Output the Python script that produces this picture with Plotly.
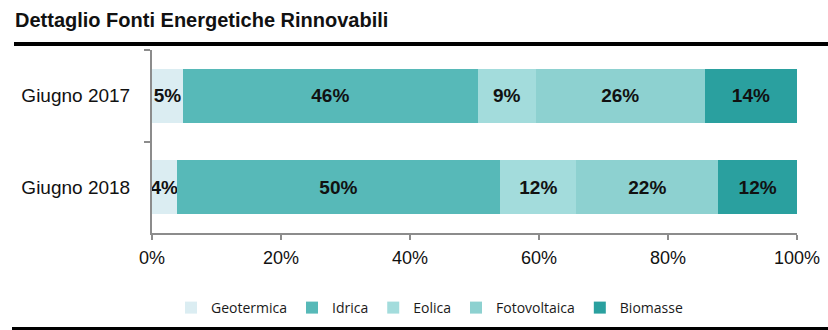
import plotly.graph_objects as go

categories = ["Giugno 2017", "Giugno 2018"]
sources = ["Geotermica", "Idrica", "Eolica", "Fotovoltaica", "Biomasse"]
geotermica = [4.8, 3.8]
idrica = [45.7, 50.2]
eolica = [9.0, 11.8]
fotovoltaica = [26.2, 22.0]
biomasse = [14.3, 12.2]
labels = {
    "Geotermica": ["5%", "4%"],
    "Idrica": ["46%", "50%"],
    "Eolica": ["9%", "12%"],
    "Fotovoltaica": ["26%", "22%"],
    "Biomasse": ["14%", "12%"],
}
colors = ["#dbedf2", "#57b9b8", "#a3dcdc", "#8dd1d0", "#2aa09f"]
xticks = [0, 20, 40, 60, 80, 100]
xticklabels = ["0%", "20%", "40%", "60%", "80%", "100%"]

series = [geotermica, idrica, eolica, fotovoltaica, biomasse]
FONT = "Liberation Sans, Arial, sans-serif"

fig = go.Figure()
for name, vals, col in zip(sources, series, colors):
    fig.add_trace(go.Bar(
        name=name, y=categories, x=vals, orientation="h",
        marker=dict(color=col, line=dict(width=0)),
        text=labels[name], textposition="inside", insidetextanchor="middle",
        textangle=0, constraintext="none", cliponaxis=False,
        textfont=dict(family=FONT, size=19, color="#111111", weight="bold"),
        hoverinfo="skip",
    ))

fig.update_layout(
    width=828, height=330,
    margin=dict(l=152, r=31, t=50, b=97),
    barmode="stack", bargap=0.41,
    plot_bgcolor="white", paper_bgcolor="white",
    font=dict(family=FONT, color="#111111"),
    title=dict(text="<b>Dettaglio Fonti Energetiche Rinnovabili</b>",
               x=15 / 828, xanchor="left", xref="container",
               y=1 - 20 / 330, yanchor="middle", yref="container",
               font=dict(family=FONT, size=20, color="#111111")),
    showlegend=True,
    legend=dict(orientation="h", x=(171 - 152) / 645, xanchor="left",
                y=(330 - 308) / 330, yref="container", yanchor="middle",
                font=dict(family="Open Sans", size=14, color="#1a1a1a"),
                traceorder="normal", itemclick=False),
    xaxis=dict(range=[0, 100], tickvals=xticks, ticktext=xticklabels,
               automargin=False,
               showgrid=False, zeroline=False, showline=True,
               linecolor="#8c8c8c", linewidth=2,
               ticks="outside", ticklen=5, tickcolor="#8c8c8c", tickwidth=1.5,
               ticklabelstandoff=2,
               tickfont=dict(family=FONT, size=18, color="#111111")),
    yaxis=dict(type="category", categoryorder="array", categoryarray=categories,
               range=[1.5, -0.5], automargin=False,
               showgrid=False, zeroline=False,
               showline=True, linecolor="#8c8c8c", linewidth=2,
               ticks="outside", ticklen=6, tickcolor="#8c8c8c", tickwidth=1.5,
               tickson="boundaries", ticklabelstandoff=16,
               tickfont=dict(family=FONT, size=19, color="#111111")),
    shapes=[
        dict(type="rect", xref="paper", yref="paper",
             x0=(14 - 152) / 645, x1=(828 - 152) / 645,
             y0=(233 - 46) / 183, y1=(233 - 42) / 183,
             fillcolor="black", line=dict(width=0)),
        dict(type="rect", xref="paper", yref="paper",
             x0=(12 - 152) / 645, x1=(828 - 152) / 645,
             y0=(233 - 331) / 183, y1=(233 - 327) / 183,
             fillcolor="black", line=dict(width=0)),
    ],
)

fig.write_html("out.html")
